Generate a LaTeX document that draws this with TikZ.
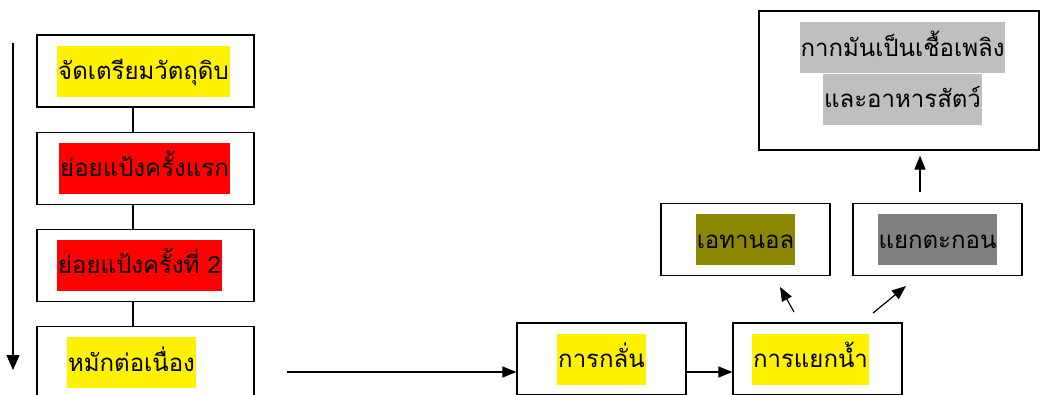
\documentclass[tikz,border=0pt]{standalone}
\usepackage{fontspec}
\newfontfamily\thaifont[Script=Thai]{Loma}
\usetikzlibrary{positioning}
\usetikzlibrary{arrows.meta}

\begin{document}
\begin{tikzpicture}[x=1pt,y=-1pt,
  box/.style={draw,line width=1.2pt,minimum width=169pt,minimum height=72pt,inner sep=0pt},
  colbox/.style={box,minimum width=217pt},
  hl/.style={inner xsep=1pt,inner ysep=0pt,text height=34pt,text depth=17pt,font=\thaifont\fontsize{24}{28}\selectfont},
  link/.style={line width=1.2pt},
  arr/.style={line width=1.2pt,-{Triangle[length=14pt,width=11pt]}}]
 \useasboundingbox (0,0) rectangle (1040,394);
 \clip (0,0) rectangle (1040,394);
 % left column
 \node[colbox] (prep) at (145.5,71) {};
 \node[colbox,below=24pt of prep] (mill1) {};
 \node[colbox,below=24pt of mill1] (mill2) {};
 \node[colbox,below=24pt of mill2] (ferm) {};
 \node[hl,fill=yellow] (prepT) at ([xshift=-2pt]prep) {จัดเตรียมวัตถุดิบ};
 \node[hl,fill=red] (mill1T) at ([xshift=-1pt]mill1) {ย่อยแป้งครั้งแรก};
 \node[hl,fill=red] (mill2T) at ([xshift=-6pt]mill2) {ย่อยแป้งครั้งที่ 2};
 \node[hl,fill=yellow] (fermT) at ([xshift=-14pt]ferm) {หมักต่อเนื่อง};
 \draw[link] ([xshift=-12.5pt]prep.south) -- ([xshift=-12.5pt]mill1.north);
 \draw[link] ([xshift=-12.5pt]mill1.south) -- ([xshift=-12.5pt]mill2.north);
 \draw[link] ([xshift=-12.5pt]mill2.south) -- ([xshift=-12.5pt]ferm.north);
 \coordinate (flowtop) at (13,43);
 \coordinate (flowend) at (13,370);
 \draw[arr,-{Triangle[length=15pt,width=13pt]}] (flowtop) -- (flowend);
 % right part
 \node[box] (dist) at (601.5,359) {};
 \node[box] (sep) at (817.5,359) {};
 \node[box] (eth) at (745.5,239.5) {};
 \node[box] (sed) at (937.5,239.5) {};
 \node[box,minimum width=280pt,minimum height=139pt] (feed) at (899,80.5) {};
 \node[hl,fill=yellow] (distT) at (dist) {การกลั่น};
 \node[hl,fill=yellow] (sepT) at ([xshift=-7pt]sep) {การแยกน้ำ};
 \node[hl,fill=olive] (ethT) at (eth) {เอทานอล};
 \node[hl,fill=gray] (sedT) at (sed) {แยกตะกอน};
 \node[hl,fill=lightgray] (feedA) at (902.5,47.5) {กากมันเป็นเชื้อเพลิง};
 \node[hl,fill=lightgray] (feedB) at (902.5,99) {และอาหารสัตว์};
 \coordinate (fermout) at (287,372);
 \draw[arr] (fermout) -- (fermout -| dist.west);
 \draw[arr] (fermout -| dist.east) -- (fermout -| sep.west);
 \coordinate (ethfrom) at (794,312);
 \coordinate (ethto) at (780,287);
 \draw[arr] (ethfrom) -- (ethto);
 \coordinate (sedfrom) at (873,313);
 \coordinate (sedto) at (906,286);
 \draw[arr] (sedfrom) -- (sedto);
 \coordinate (sedup) at (920,192);
 \draw[arr] (sedup) -- ([yshift=-5pt]sedup |- feed.south);
\end{tikzpicture}
\end{document}
